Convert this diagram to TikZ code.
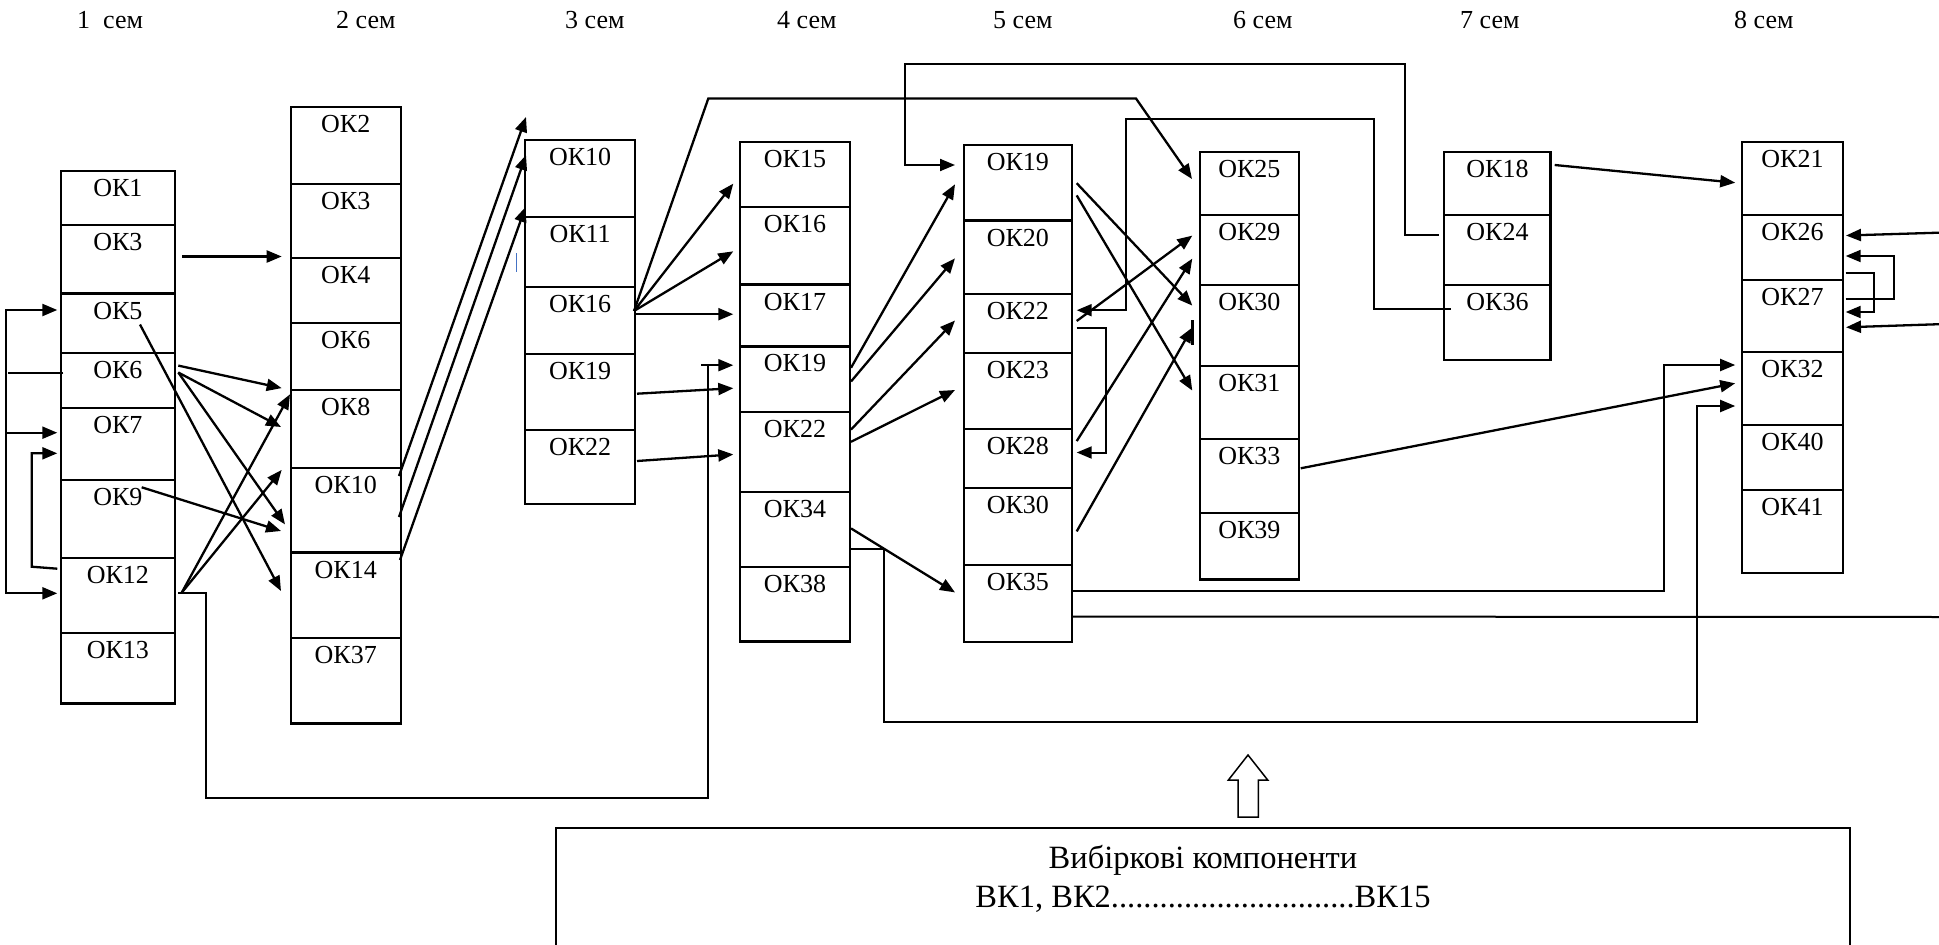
\documentclass[tikz,border=0pt]{standalone}
\usepackage{fontspec}
\setmainfont{Liberation Serif}
\usetikzlibrary{arrows.meta,fit}
\tikzset{
  cellbox/.style={draw, line width=2.3pt, inner sep=0pt, outer sep=0pt},
  celltext/.style={font=\fontsize{26}{30}\selectfont, anchor=base, inner sep=0pt},
  semtext/.style={font=\fontsize{26}{30}\selectfont, anchor=base west, inner sep=0pt},
  boxtext/.style={font=\fontsize{32.5}{38}\selectfont, anchor=base, inner sep=0pt},
  arr/.style={line width=2.3pt, -{Triangle[length=15pt,width=12pt]}},
  arrb/.style={line width=2.3pt, {Triangle[length=15pt,width=12pt]}-{Triangle[length=15pt,width=12pt]}},
  wire/.style={line width=2pt},
  warr/.style={line width=2pt, -{Triangle[length=15pt,width=12pt]}},
}
\newcommand\okcell[6]{\node[cellbox, fit={(#2,#3) (#4,#5)}] (#1) {};
  \node[celltext] (#1t) at ([shift={(0,25.5)}]#1.north) {#6};}
\begin{document}
\begin{tikzpicture}[x=1pt,y=-1pt]
\useasboundingbox (0,0) rectangle (1939,945);
\clip (0,0) rectangle (1939,945);
% semester headings
\node[semtext] (s1) at (77,28) {1~~сем};
\node[semtext] (s2) at (336,28) {2 сем};
\node[semtext] (s3) at (565,28) {3 сем};
\node[semtext] (s4) at (777,28) {4 сем};
\node[semtext] (s5) at (993,28) {5 сем};
\node[semtext] (s6) at (1233,28) {6 сем};
\node[semtext] (s7) at (1460,28) {7 сем};
\node[semtext] (s8) at (1734,28) {8 сем};
% column 1
\okcell{k1a}{60.7}{170.7}{175}{225.2}{ОК1}
\okcell{k1b}{60.7}{225.2}{175}{293.6}{ОК3}
\okcell{k1c}{60.7}{293.6}{175}{352.8}{ОК5}
\okcell{k1d}{60.7}{352.8}{175}{407.7}{ОК6}
\okcell{k1e}{60.7}{407.7}{175}{479.7}{ОК7}
\okcell{k1f}{60.7}{479.7}{175}{557.9}{ОК9}
\okcell{k1g}{60.7}{557.9}{175}{632.7}{ОК12}
\okcell{k1h}{60.7}{632.7}{175}{703.6}{ОК13}
% column 2
\okcell{k2a}{290.7}{106.7}{400.7}{184}{ОК2}
\okcell{k2b}{290.7}{184}{400.7}{257.7}{ОК3}
\okcell{k2c}{290.7}{257.7}{400.7}{322.7}{ОК4}
\okcell{k2d}{290.7}{322.7}{400.7}{390}{ОК6}
\okcell{k2e}{290.7}{390}{400.7}{468.3}{ОК8}
\okcell{k2f}{290.7}{468.3}{400.7}{552.5}{ОК10}
\okcell{k2g}{290.7}{552.5}{400.7}{637.8}{ОК14}
\okcell{k2h}{290.7}{637.8}{400.7}{723.4}{ОК37}
% column 3
\okcell{k3a}{525}{140}{635.3}{216.7}{ОК10}
\okcell{k3b}{525}{216.7}{635.3}{286.7}{ОК11}
\okcell{k3c}{525}{286.7}{635.3}{354}{ОК16}
\okcell{k3d}{525}{354}{635.3}{430}{ОК19}
\okcell{k3e}{525}{430}{635.3}{504}{ОК22}
% column 4
\okcell{k4a}{740}{142.2}{850}{206.9}{ОК15}
\okcell{k4b}{740}{206.9}{850}{284.6}{ОК16}
\okcell{k4c}{740}{284.6}{850}{346.4}{ОК17}
\okcell{k4d}{740}{346.4}{850}{411.9}{ОК19}
\okcell{k4e}{740}{411.9}{850}{491.8}{ОК22}
\okcell{k4f}{740}{491.8}{850}{566.9}{ОК34}
\okcell{k4g}{740}{566.9}{850}{641.6}{ОК38}
% column 5
\okcell{k5a}{963.7}{145}{1072}{220.5}{ОК19}
\okcell{k5b}{963.7}{220.5}{1072}{293.8}{ОК20}
\okcell{k5c}{963.7}{293.8}{1072}{353}{ОК22}
\okcell{k5d}{963.7}{353}{1072}{428.9}{ОК23}
\okcell{k5e}{963.7}{428.9}{1072}{488}{ОК28}
\okcell{k5f}{963.7}{488}{1072}{565}{ОК30}
\okcell{k5g}{963.7}{565}{1072}{642}{ОК35}
% column 6
\okcell{k6a}{1199.7}{152}{1299}{215}{ОК25}
\okcell{k6b}{1199.7}{215}{1299}{285}{ОК29}
\okcell{k6c}{1199.7}{285}{1299}{366}{ОК30}
\okcell{k6d}{1199.7}{366}{1299}{439}{ОК31}
\okcell{k6e}{1199.7}{439}{1299}{513}{ОК33}
\okcell{k6f}{1199.7}{513}{1299}{579.5}{ОК39}
% column 7
\okcell{k7a}{1444.3}{152}{1550.6}{215}{ОК18}
\okcell{k7b}{1444.3}{215}{1550.6}{285}{ОК24}
\okcell{k7c}{1444.3}{285}{1550.6}{359.7}{ОК36}
% column 8
\okcell{k8a}{1741.7}{142}{1843.3}{214.7}{ОК21}
\okcell{k8b}{1741.7}{214.7}{1843.3}{279.7}{ОК26}
\okcell{k8c}{1741.7}{279.7}{1843.3}{351.7}{ОК27}
\okcell{k8d}{1741.7}{351.7}{1843.3}{424.7}{ОК32}
\okcell{k8e}{1741.7}{424.7}{1843.3}{490}{ОК40}
\okcell{k8f}{1741.7}{490}{1843.3}{573.3}{ОК41}
% free ends at the right border
\coordinate (rE1) at (1945,617);
\coordinate (rE2) at (1945,232.5);
\coordinate (rE3) at (1945,324);
% ---- column 1 left side
\draw[arrb] ([shift={(-3.4,16.4)}]k1c.north west) -- ++(-51.3,0) |- ([shift={(-3.4,35.4)}]k1g.north west);
\draw[arr] ([shift={(-54.7,25)}]k1e.north west) -- ([shift={(-3.4,25)}]k1e.north west);
\draw[wire] ([shift={(2.6,19.9)}]k1d.north west) -- ++(-55.3,0);
\draw[arr] ([shift={(-3.4,10.8)}]k1g.north west) -- ++(-25.6,-2) |- ([shift={(-3.4,45.6)}]k1e.north west);
% ---- column 1 -> column 2
\draw[arr] ([shift={(7,31.3)}]k1b.north east) -- ([shift={(-9,72.5)}]k2b.north west);
\draw[arr] ([shift={(3.3,12.8)}]k1d.north east) -- ([shift={(-9,65.4)}]k2d.north west);
\draw[arr] ([shift={(3.3,19.7)}]k1d.north east) -- ([shift={(-9.7,37)}]k2e.north west);
\draw[arr] ([shift={(3.3,19.7)}]k1d.north east) -- ([shift={(-5.7,56.1)}]k2f.north west);
\draw[arr] ([shift={(-35,30.9)}]k1c.north east) -- ([shift={(-9.7,38.5)}]k2g.north west);
\draw[arr] ([shift={(-33.3,7.6)}]k1f.north east) -- ([shift={(-9.7,62.7)}]k2f.north west);
\draw[arr] ([shift={(6.7,34.8)}]k1g.north east) -- ([shift={(-0.7,4.3)}]k2e.north west);
\draw[arr] ([shift={(6.7,34.8)}]k1g.north east) -- ([shift={(-9,1.6)}]k2f.north west);
% OK12 -> bottom route -> OK19 (col 4)
\draw[wire] ([shift={(3,34.8)}]k1g.north east) -- ++(27.7,0) |- ([shift={(-32,451.3)}]k4d.north west) -- ([shift={(-32,18.8)}]k4d.north west);
\draw[warr] ([shift={(-39,18.8)}]k4d.north west) -- ([shift={(-6.7,18.8)}]k4d.north west);
% ---- column 2 -> column 3
\draw[arr] ([shift={(-1.7,7.7)}]k2f.north east) -- ([shift={(1,-23)}]k3a.north west);
\draw[arr] ([shift={(-1.7,48.7)}]k2f.north east) -- ([shift={(1,15)}]k3a.north west);
\draw[arr] ([shift={(-0.7,7.5)}]k2g.north east) -- ([shift={(0.5,67)}]k3a.north west);
\draw[line width=1pt, draw={rgb,255:red,68;green,114;blue,196}] ([shift={(-9,36.6)}]k3b.north west) -- ([shift={(-9,55)}]k3b.north west);
% ---- column 3 -> column 4
\draw[arr] ([shift={(-1.3,24.3)}]k3c.north east) -- ([shift={(-6.7,41.4)}]k4a.north west);
\draw[arr] ([shift={(-1.3,24.3)}]k3c.north east) -- ([shift={(-6.7,44.4)}]k4b.north west);
\draw[arr] ([shift={(0,27.5)}]k3c.north east) -- ([shift={(-6.7,29.6)}]k4c.north west);
\draw[arr] ([shift={(-1.3,24.3)}]k3c.north east) -- ++(74.3,-212.5) -- ++(427.7,0) -- ([shift={(-7.7,27)}]k6a.north west);
\draw[arr] ([shift={(1.7,39.7)}]k3d.north east) -- ([shift={(-6.7,41.8)}]k4d.north west);
\draw[arr] ([shift={(1.7,31)}]k3e.north east) -- ([shift={(-6.7,42.5)}]k4e.north west);
% ---- column 4 -> column 5
\draw[arr] ([shift={(1,21.4)}]k4d.north east) -- ([shift={(-8.7,39.3)}]k5a.north west);
\draw[arr] ([shift={(1,35.1)}]k4d.north east) -- ([shift={(-8.7,37.8)}]k5b.north west);
\draw[arr] ([shift={(1,17.7)}]k4e.north east) -- ([shift={(-8.7,26.7)}]k5c.north west);
\draw[arr] ([shift={(1,29.9)}]k4e.north east) -- ([shift={(-8.7,37)}]k5d.north west);
\draw[arr] ([shift={(1,36.6)}]k4f.north east) -- ([shift={(-8.7,27.4)}]k5g.north west);
% OK34 -> bottom route -> OK32 (col 8)
\draw[warr] ([shift={(1,57.3)}]k4f.north east) -- ++(33.3,0) |- ([shift={(-45,370.6)}]k8d.north west) |- ([shift={(-6.5,54.3)}]k8d.north west);
% ---- OK24 -> OK19 (col 5), top route
\draw[warr] ([shift={(-5.8,19.7)}]k7b.north west) -- ++(-33.5,0) |- ([shift={(-59.2,-81)}]k5a.north west) |- ([shift={(-8.7,20)}]k5a.north west);
% ---- OK36 -> OK22 (col 5)
\draw[warr] ([shift={(6.5,24)}]k7c.north west) -- ++(-76.6,0) |- ([shift={(53.7,-175)}]k5c.north east) |- ([shift={(4.7,16.4)}]k5c.north east);
% ---- column 5 -> column 6
\draw[arr] ([shift={(4.7,38.2)}]k5a.north east) -- ([shift={(-7.4,20.6)}]k6c.north west);
\draw[arr] ([shift={(4.7,50.4)}]k5a.north east) -- ([shift={(-7.4,24.6)}]k6d.north west);
\draw[arr] ([shift={(4.7,27.2)}]k5c.north east) -- ([shift={(-7.4,20.6)}]k6b.north west);
\draw[arr] ([shift={(4.7,12.2)}]k5e.north east) -- ([shift={(-7.4,43.6)}]k6b.north west);
\draw[arr] ([shift={(4.7,43.4)}]k5f.north east) -- ([shift={(-7.4,42.5)}]k6c.north west);
\draw[line width=2.3pt] ([shift={(-7.2,35)}]k6c.north west) -- ([shift={(-7.2,60)}]k6c.north west);
% OK22 -> OK28 (col 5)
\draw[warr] ([shift={(4.7,33.7)}]k5c.north east) -- ++(29.3,0) |- ([shift={(4.7,23.6)}]k5e.north east);
% ---- OK35 routes
\draw[warr] ([shift={(1,25.5)}]k5g.north east) -| ([shift={(-77.7,13.3)}]k8d.north west) -- ([shift={(-6.5,13.3)}]k8d.north west);
\draw[wire] ([shift={(1,51.5)}]k5g.north east) -- (rE1);
% ---- OK33 -> OK32, OK18 -> OK21
\draw[arr] ([shift={(1.7,29.3)}]k6e.north east) -- ([shift={(-6.5,31.6)}]k8d.north west);
\draw[arr] ([shift={(4.1,13)}]k7a.north east) -- ([shift={(-6.5,40.7)}]k8a.north west);
% ---- column 8 right side
\draw[arr] (rE2) -- ([shift={(2.7,20.8)}]k8b.north east);
\draw[arr] (rE3) -- ([shift={(2.7,47.6)}]k8c.north east);
\draw[warr] ([shift={(2.4,19.6)}]k8c.north east) -- ++(48.6,0) |- ([shift={(2.4,41.3)}]k8b.north east);
\draw[warr] ([shift={(2.4,58)}]k8b.north east) -- ++(28.3,0) |- ([shift={(2.4,32.3)}]k8c.north east);
% ---- elective block
\node[draw, line width=2pt, inner sep=0pt, fit={(556,828.3) (1849.8,980)}] (vk) {};
\node[boxtext] (vk1) at (1203,868) {Вибіркові компоненти};
\node[boxtext] (vk2) at (1203,907.5) {ВК1, ВК2..............................ВК15};
\draw[line width=1.5pt, line join=miter] (1248,755) -- (1267.7,780) -- (1258.3,780) -- (1258.3,817) -- (1238,817) -- (1238,780) -- (1228.4,780) -- cycle;
\end{tikzpicture}
\end{document}
